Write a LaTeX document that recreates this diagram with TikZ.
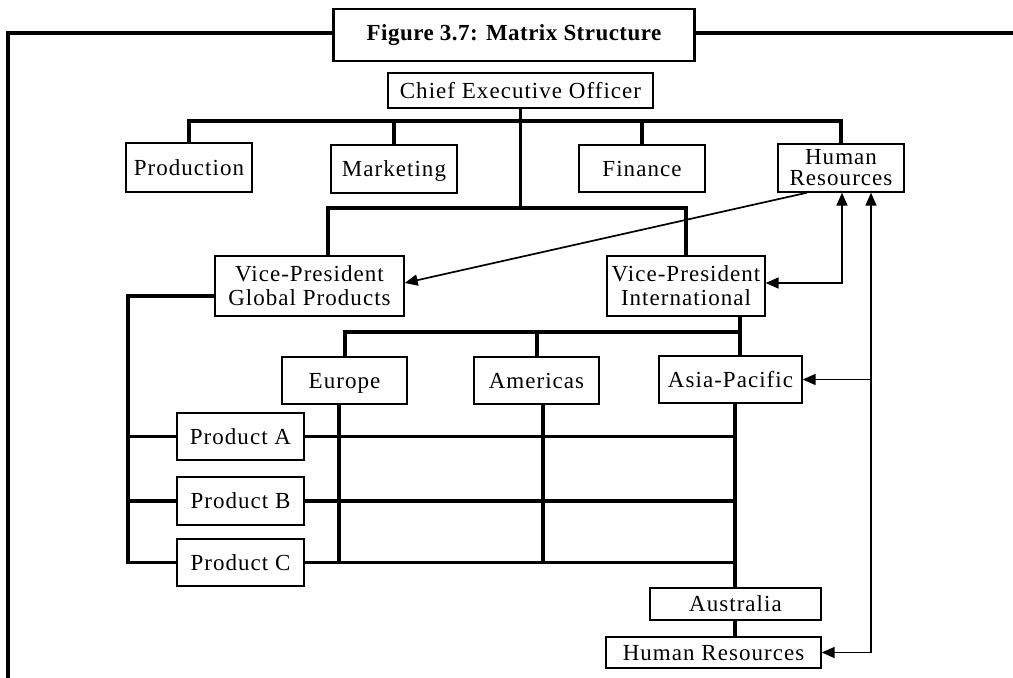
\documentclass[tikz,border=0pt]{standalone}
\usepackage{fontspec}
\newfontfamily\boxfont{Liberation Serif}[LetterSpace=4.5]
\newfontfamily\titlefont{Liberation Serif}[LetterSpace=2]
\usetikzlibrary{arrows.meta}
\tikzset{
  box/.style={draw, line width=1.4pt, inner sep=0pt, align=center, font=\boxfont\fontsize{23}{24}\selectfont},
  oneline/.style={box, text height=19pt, text depth=4pt},
  conn/.style={line width=3.2pt},
  tipA/.tip={Triangle[length=13pt,width=11pt]},
  arr/.style={line width=1.7pt, -tipA},
  darr/.style={line width=1.7pt, tipA-tipA},
}
\begin{document}
\begin{tikzpicture}[x=1pt,y=-1pt]
\useasboundingbox (0,0) rectangle (1013,678);
% title and frame
\node[draw, line width=2.8pt, minimum width=361pt, minimum height=52pt, inner sep=0pt,
  font=\titlefont\bfseries\fontsize{23}{24}\selectfont] (title) at (514,35) {Figure 3.7: Matrix Structure};
\draw[conn] (8,678) -- (8,33) -- (title.west |- 0,33);
\draw[conn] (title.east |- 0,33) -- (1013,33);
% boxes
\node[oneline, minimum width=265pt, minimum height=35pt] (ceo) at (520.5,90.5) {Chief Executive Officer};
\node[oneline, minimum width=126pt, minimum height=49pt] (prod) at (189,167.5) {Production};
\node[oneline, minimum width=126pt, minimum height=48pt] (mkt) at (394,169) {Marketing};
\node[oneline, minimum width=126pt, minimum height=47pt] (fin) at (642,168.5) {Finance};
\node[box, minimum width=126pt, minimum height=48pt, font=\boxfont\fontsize{23}{21}\selectfont] (hr) at (841,168) {Human\\Resources};
\node[box, minimum width=189pt, minimum height=60pt] (vpg) at (309.5,286) {Vice-President\\Global Products};
\node[box, minimum width=158pt, minimum height=60pt] (vpi) at (686,286) {Vice-President\\International};
\node[oneline, minimum width=125pt, minimum height=47pt] (eur) at (344.5,380.5) {Europe};
\node[oneline, minimum width=125pt, minimum height=47pt] (ame) at (536.5,380.5) {Americas};
\node[oneline, minimum width=143pt, minimum height=47pt] (asia) at (730.5,379.5) {Asia-Pacific};
\node[oneline, minimum width=127pt, minimum height=47pt] (pa) at (240.5,436.5) {Product A};
\node[oneline, minimum width=127pt, minimum height=48pt] (pb) at (240.5,501) {Product B};
\node[oneline, minimum width=127pt, minimum height=47pt] (pc) at (240.5,562.5) {Product C};
\node[oneline, minimum width=171pt, minimum height=32pt] (aus) at (735.5,604) {Australia};
\node[oneline, minimum width=215pt, minimum height=31pt] (hr2) at (713.5,652.5) {Human Resources};
% tree connectors
\draw[conn] (prod.north) -- (prod.north |- 0,121) -- (hr.north |- 0,121) -- (hr.north);
\draw[conn] (mkt.north) -- (mkt.north |- 0,121);
\draw[conn] (fin.north) -- (fin.north |- 0,121);
\draw[conn] (ceo.south) -- (ceo.south |- 0,208);
\draw[conn] (328,0 |- vpg.north) -- (328,208) -- (vpi.north |- 0,208) -- (vpi.north);
\draw[conn] (740,0 |- vpi.south) -- (740,0 |- asia.north);
\draw[conn] (345,0 |- eur.north) -- (345,332) -- (740,332);
\draw[conn] (537,0 |- ame.north) -- (537,332);
\draw[conn] (339,0 |- eur.south) -- (339,0 |- pc.east);
\draw[conn] (543,0 |- ame.south) -- (543,0 |- pc.east);
\draw[conn] (735,0 |- asia.south) -- (735,0 |- aus.north);
\draw[conn] (pa.east) -- (735,0 |- pa.east);
\draw[conn] (pb.east) -- (735,0 |- pb.east);
\draw[conn] (pc.east) -- (735,0 |- pc.east);
\draw[conn] (vpg.west |- 0,296) -- (128,296) -- (128,0 |- pc.west) -- (pc.west);
\draw[conn] (128,0 |- pa.west) -- (pa.west);
\draw[conn] (128,0 |- pb.west) -- (pb.west);
\draw[conn] (735,0 |- aus.south) -- (735,0 |- hr2.north);
% HR arrows
\draw[arr] (807,0 |- hr.south) -- (vpg.east |- 0,283);
\draw[darr] (842,0 |- hr.south) |- (vpi.east |- 0,283);
\draw[darr] (hr2.east) -| (871,0 |- hr.south);
\draw[arr] (871,0 |- asia.east) -- (asia.east);
\end{tikzpicture}
\end{document}
